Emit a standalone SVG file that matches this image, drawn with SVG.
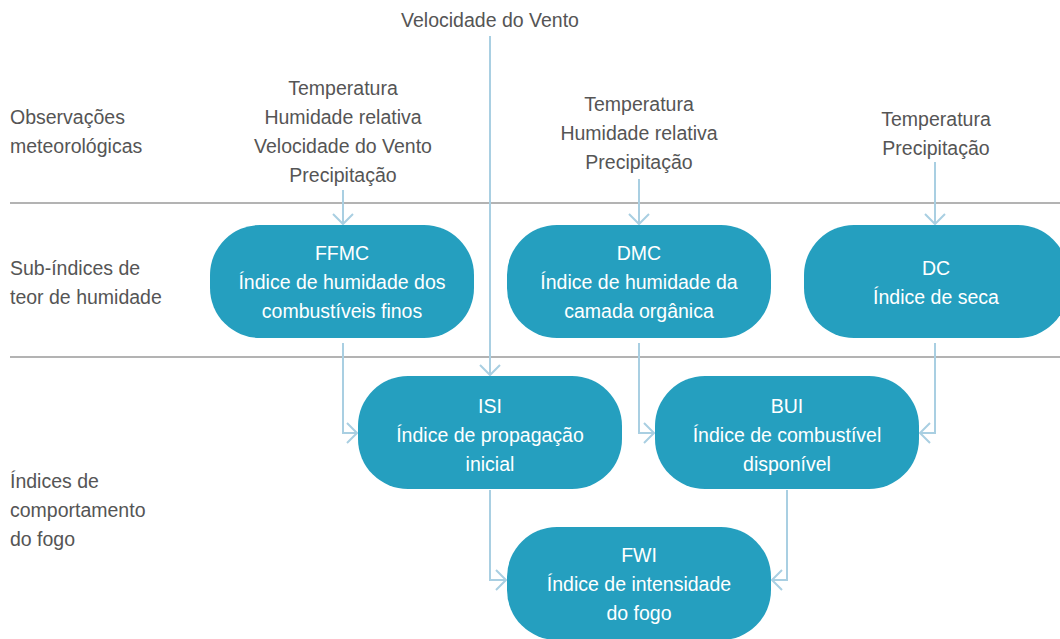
<svg xmlns="http://www.w3.org/2000/svg" width="1060" height="639" viewBox="0 0 1060 639">
  <defs>
    <style>
      .t { font-family: "Liberation Sans", Arial, sans-serif; font-size: 19.5px; fill: #555555; }
      .c { text-anchor: middle; }
      .w { font-family: "Liberation Sans", Arial, sans-serif; font-size: 19.5px; fill: #ffffff; text-anchor: middle; }
      .box { fill: #259fbf; }
      .div { stroke: #9a9a9a; stroke-width: 1.5; fill: none; }
      .con { stroke: #a9cfe2; stroke-width: 2; fill: none; marker-end: url(#arr); }
    </style>
    <marker id="arr" markerUnits="userSpaceOnUse" viewBox="-12 -12 24 24" refX="0" refY="0" markerWidth="24" markerHeight="24" orient="auto" overflow="visible">
      <path d="M-10,-10 L0,0 L-10,10" fill="none" stroke="#a9cfe2" stroke-width="2"/>
    </marker>
  </defs>
  <rect width="1060" height="639" fill="#ffffff"/>

  <g id="dividers">
    <line class="div" x1="10" y1="203" x2="1060" y2="203"/>
    <line class="div" x1="10" y1="357" x2="1060" y2="357"/>
  </g>

  <g id="row-labels" class="t">
    <text x="10" y="123.5">Observações</text>
    <text x="10" y="152.5">meteorológicas</text>
    <text x="10" y="274.5">Sub-índices de</text>
    <text x="10" y="303.5">teor de humidade</text>
    <text x="10" y="487.5">Índices de</text>
    <text x="10" y="516.5">comportamento</text>
    <text x="10" y="545.5">do fogo</text>
  </g>

  <g id="inputs" class="t c">
    <text x="490" y="26.5">Velocidade do Vento</text>
    <text x="343" y="94.5">Temperatura</text>
    <text x="343" y="123.5">Humidade relativa</text>
    <text x="343" y="152.5">Velocidade do Vento</text>
    <text x="343" y="181.5">Precipitação</text>
    <text x="639" y="110.5">Temperatura</text>
    <text x="639" y="139.5">Humidade relativa</text>
    <text x="639" y="168.5">Precipitação</text>
    <text x="936" y="125.5">Temperatura</text>
    <text x="936" y="154.5">Precipitação</text>
  </g>

  <g id="connectors">
    <path class="con" d="M490,36 V375"/>
    <path class="con" d="M343,190 V224"/>
    <path class="con" d="M639,179 V224"/>
    <path class="con" d="M935,162 V224"/>
    <path class="con" d="M343,343 V433 H357"/>
    <path class="con" d="M639,343 V433 H654"/>
    <path class="con" d="M935,343 V433 H920"/>
    <path class="con" d="M490,490 V580 H506"/>
    <path class="con" d="M787,490 V580 H772"/>
  </g>

  <g id="FFMC">
    <rect class="box" x="210" y="225" width="264" height="113" rx="50" ry="50"/>
    <text class="w" x="342" y="259.5">FFMC</text>
    <text class="w" x="342" y="288.5">Índice de humidade dos</text>
    <text class="w" x="342" y="317.5">combustíveis finos</text>
  </g>

  <g id="DMC">
    <rect class="box" x="507" y="225" width="264" height="113" rx="50" ry="50"/>
    <text class="w" x="639" y="259.5">DMC</text>
    <text class="w" x="639" y="288.5">Índice de humidade da</text>
    <text class="w" x="639" y="317.5">camada orgânica</text>
  </g>

  <g id="DC">
    <rect class="box" x="804" y="225" width="264" height="113" rx="50" ry="50"/>
    <text class="w" x="936" y="274.5">DC</text>
    <text class="w" x="936" y="303.5">Índice de seca</text>
  </g>

  <g id="ISI">
    <rect class="box" x="358" y="376" width="264" height="113" rx="50" ry="50"/>
    <text class="w" x="490" y="412.5">ISI</text>
    <text class="w" x="490" y="441.5">Índice de propagação</text>
    <text class="w" x="490" y="470.5">inicial</text>
  </g>

  <g id="BUI">
    <rect class="box" x="655" y="376" width="264" height="113" rx="50" ry="50"/>
    <text class="w" x="787" y="412.5">BUI</text>
    <text class="w" x="787" y="441.5">Índice de combustível</text>
    <text class="w" x="787" y="470.5">disponível</text>
  </g>

  <g id="FWI">
    <rect class="box" x="507" y="527" width="264" height="113" rx="50" ry="50"/>
    <text class="w" x="639" y="561.5">FWI</text>
    <text class="w" x="639" y="590.5">Índice de intensidade</text>
    <text class="w" x="639" y="620">do fogo</text>
  </g>
</svg>
